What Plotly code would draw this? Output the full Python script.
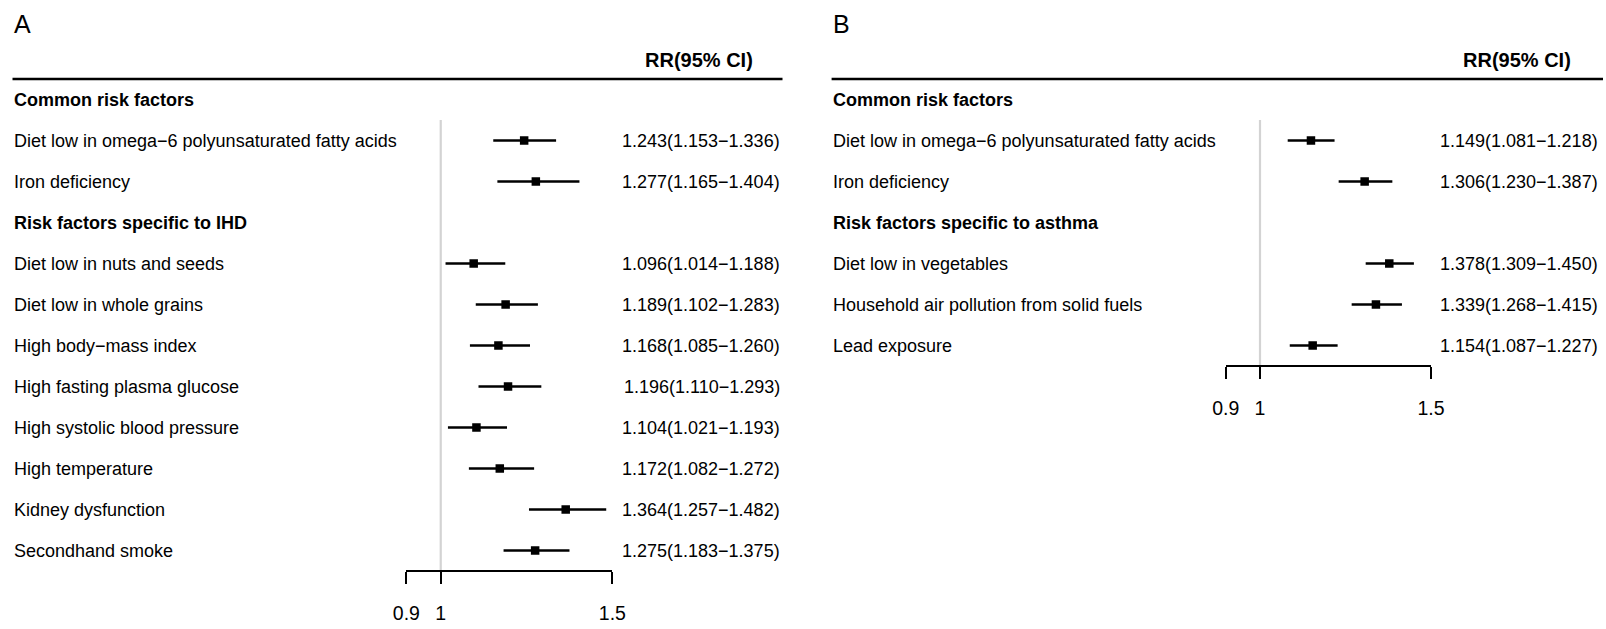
import plotly.graph_objects as go

W, H = 1606, 629

# ---------------- data ----------------
a_common_labels = ["Diet low in omega\u22126 polyunsaturated fatty acids", "Iron deficiency"]
a_common_rr = [1.243, 1.277]
a_common_lo = [1.153, 1.165]
a_common_hi = [1.336, 1.404]

a_spec_header = "Risk factors specific to IHD"
a_spec_labels = ["Diet low in nuts and seeds", "Diet low in whole grains", "High body\u2212mass index",
                 "High fasting plasma glucose", "High systolic blood pressure", "High temperature",
                 "Kidney dysfunction", "Secondhand smoke"]
a_spec_rr = [1.096, 1.189, 1.168, 1.196, 1.104, 1.172, 1.364, 1.275]
a_spec_lo = [1.014, 1.102, 1.085, 1.110, 1.021, 1.082, 1.257, 1.183]
a_spec_hi = [1.188, 1.283, 1.260, 1.293, 1.193, 1.272, 1.482, 1.375]

b_common_labels = ["Diet low in omega\u22126 polyunsaturated fatty acids", "Iron deficiency"]
b_common_rr = [1.149, 1.306]
b_common_lo = [1.081, 1.230]
b_common_hi = [1.218, 1.387]

b_spec_header = "Risk factors specific to asthma"
b_spec_labels = ["Diet low in vegetables", "Household air pollution from solid fuels", "Lead exposure"]
b_spec_rr = [1.378, 1.339, 1.154]
b_spec_lo = [1.309, 1.268, 1.087]
b_spec_hi = [1.450, 1.415, 1.227]

common_header = "Common risk factors"
col_header = "RR(95% CI)"
tick_vals = [0.9, 1, 1.5]
tick_text = ["0.9", "1", "1.5"]
x_range = [0.9, 1.5]

# ---------------- layout helpers ----------------
ROW0_PX = 99.5      # pixel y of row index 0
ROW_PX = 41.0       # pixel per row
y_top = -ROW0_PX / ROW_PX
y_bot = (H - ROW0_PX) / ROW_PX

def row_to_paper(r):
    return 1 - (ROW0_PX + r * ROW_PX) / H

FONT = "Liberation Sans, Arial, sans-serif"
FS = 18

fig = go.Figure()
annotations = []
shapes = []

panels = [
    dict(letter="A", xa="x", ya="y", axname="xaxis", dom=(406.4, 612.4), left=12.5, right=782.5,
         rr_right=755, ci_right=781.5,
         common=(a_common_labels, a_common_rr, a_common_lo, a_common_hi),
         spec=(a_spec_header, a_spec_labels, a_spec_rr, a_spec_lo, a_spec_hi)),
    dict(letter="B", xa="x2", ya="y", axname="xaxis2", dom=(1225.8, 1431.0), left=831.6, right=1603,
         rr_right=1573, ci_right=1599.5,
         common=(b_common_labels, b_common_rr, b_common_lo, b_common_hi),
         spec=(b_spec_header, b_spec_labels, b_spec_rr, b_spec_lo, b_spec_hi)),
]

def fmt(rr, lo, hi):
    return f"{rr:.3f}({lo:.3f}\u2212{hi:.3f})"

for p in panels:
    cl, crr, clo, chi = p["common"]
    sh, sl, srr, slo, shi = p["spec"]
    labels = [common_header] + cl + [sh] + sl
    is_head = [True] + [False] * len(cl) + [True] + [False] * len(sl)
    rr = [None] + crr + [None] + srr
    lo = [None] + clo + [None] + slo
    hi = [None] + chi + [None] + shi
    n = len(labels)
    rows = list(range(n))

    # CI lines
    xs, ys = [], []
    for r, l, h in zip(rows, lo, hi):
        if l is None:
            continue
        xs += [l, h, None]
        ys += [r, r, None]
    fig.add_trace(go.Scatter(x=xs, y=ys, mode="lines", xaxis=p["xa"], yaxis=p["ya"],
                             line=dict(color="black", width=2.6), hoverinfo="skip", showlegend=False,
                             cliponaxis=False))
    fig.add_trace(go.Scatter(x=[v for v in rr if v is not None],
                             y=[r for r, v in zip(rows, rr) if v is not None],
                             mode="markers", xaxis=p["xa"], yaxis=p["ya"],
                             marker=dict(symbol="square", size=8.5, color="black"),
                             showlegend=False, cliponaxis=False))

    # labels + CI text
    for r, lab, hd, v, l, h in zip(rows, labels, is_head, rr, lo, hi):
        annotations.append(dict(x=(p["left"] - 1) / W, xref="paper", y=r, yref="y", text=f"<b>{lab}</b>" if hd else lab,
                                xanchor="left", yanchor="middle", showarrow=False,
                                font=dict(family=FONT, size=FS, color="black")))
        if v is not None:
            annotations.append(dict(x=p["ci_right"] / W, xref="paper", y=r, yref="y", text=fmt(v, l, h),
                                    xanchor="right", yanchor="middle", showarrow=False,
                                    font=dict(family=FONT, size=FS, color="black")))

    # panel letter, column header
    annotations.append(dict(x=(p["left"] - 1) / W, xref="paper", y=1 - 24 / H, yref="paper", text=p["letter"],
                            xanchor="left", yanchor="middle", showarrow=False,
                            font=dict(family=FONT, size=25, color="black")))
    annotations.append(dict(x=p["rr_right"] / W, xref="paper", y=1 - 60 / H, yref="paper",
                            text=f"<b>{col_header}</b>", xanchor="right", yanchor="middle", showarrow=False,
                            font=dict(family=FONT, size=20, color="black")))
    # header rule
    shapes.append(dict(type="line", xref="paper", yref="paper", x0=p["left"] / W, x1=p["right"] / W,
                       y0=1 - 79 / H, y1=1 - 79 / H, line=dict(color="black", width=2.7)))
    # reference line at 1
    shapes.append(dict(type="line", xref=p["xa"], yref="y", x0=1, x1=1, y0=0.5, y1=n - 0.5,
                       line=dict(color="#d3d3d3", width=2.2), layer="below"))

    fig.layout[p["axname"]] = dict(domain=[p["dom"][0] / W, p["dom"][1] / W], range=x_range,
                                   anchor="free", position=row_to_paper(n - 0.5), automargin=False,
                                   showline=True, linecolor="black", linewidth=2.3,
                                   ticks="outside", ticklen=12, tickwidth=2.3, tickcolor="black",
                                   ticklabelstandoff=12,
                                   tickvals=tick_vals, ticktext=tick_text, showgrid=False, zeroline=False,
                                   tickfont=dict(family=FONT, size=19.5, color="black"), fixedrange=True)

fig.update_layout(
    template="none",
    width=W, height=H, margin=dict(l=0, r=0, t=0, b=0, pad=0, autoexpand=False),
    paper_bgcolor="white", plot_bgcolor="rgba(0,0,0,0)",
    yaxis=dict(domain=[0, 1], range=[y_bot, y_top], visible=False, fixedrange=True, automargin=False),
    annotations=annotations, shapes=shapes, showlegend=False,
)

fig.write_html("out.html", config={"displayModeBar": False},
               post_script="document.body.style.margin='0';document.body.style.overflow='hidden';")
